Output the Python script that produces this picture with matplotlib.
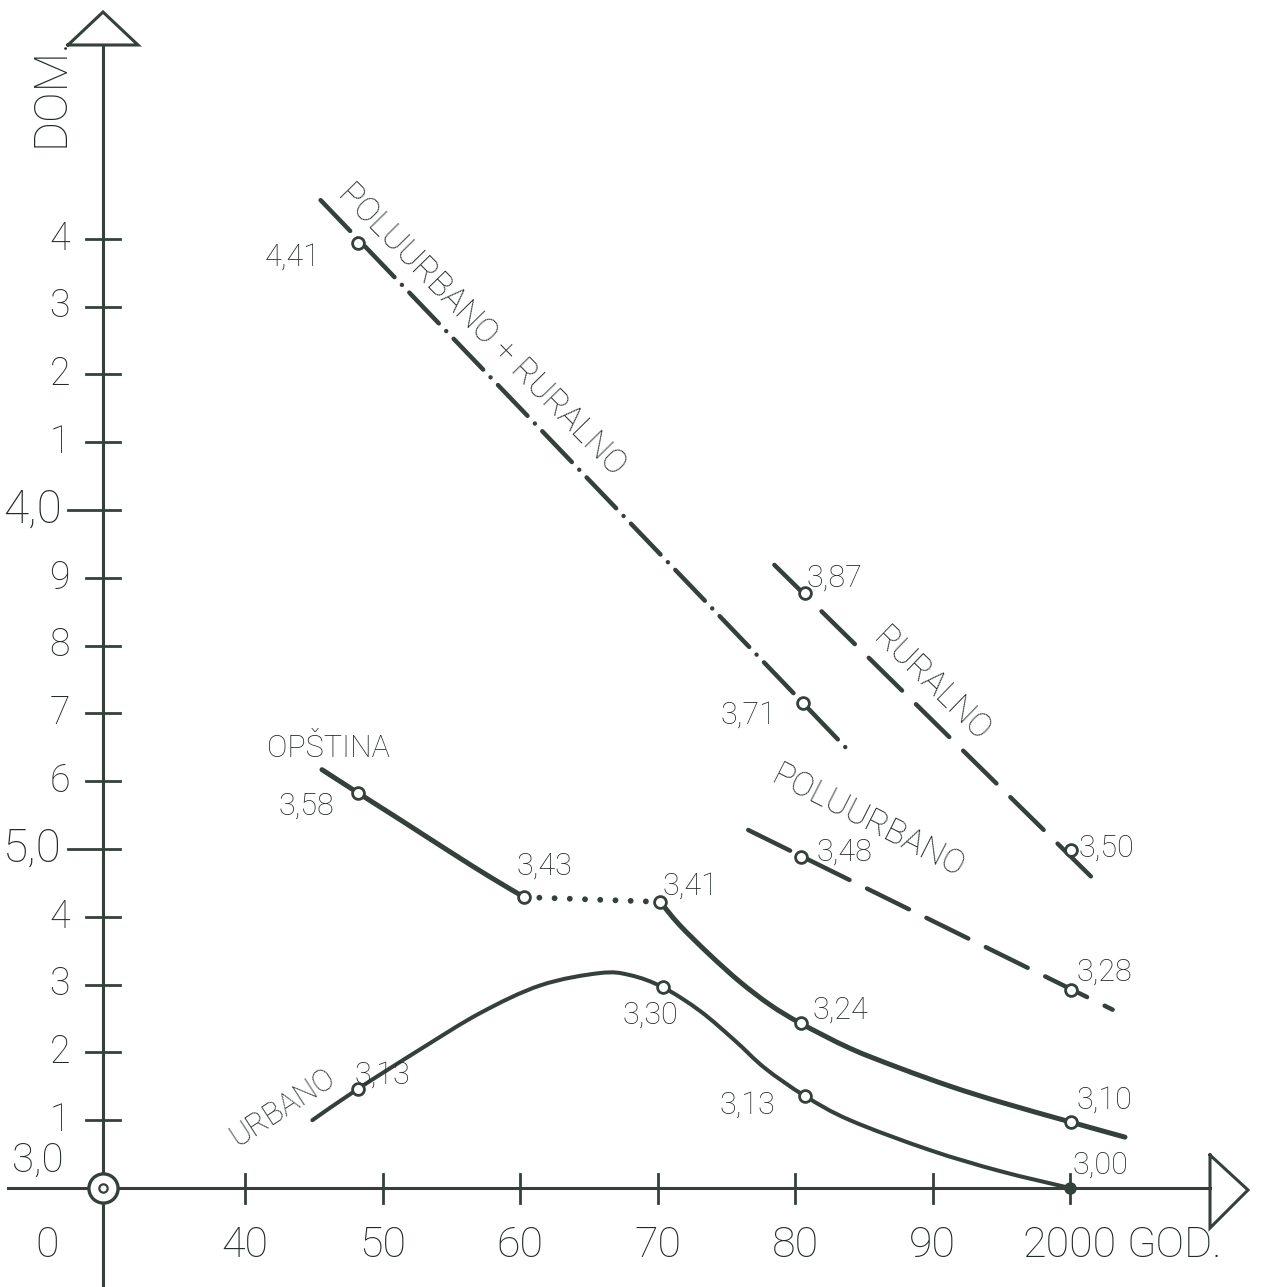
import matplotlib.pyplot as plt
from matplotlib.path import Path
from matplotlib.patches import PathPatch

WIDTH_PXL = 1262
HEIGHT_PXL = 1287
DPI = 100

INK = '#34413a'
TEXT_INK = '#222a26'
FONT = 'Roboto'

# --- data (years, households per dwelling "DOM.") ---
pr_years = [1945.5, 1984.0]          # POLUURBANO + RURALNO
pr_vals = [4.457, 3.643]
pr_pt_years = [1948.2, 1980.6]
pr_pt_vals = [4.394, 3.715]
pr_pt_labels = ['4,41', '3,71']

rur_years = [1978.5, 2001.8]         # RURALNO
rur_vals = [3.919, 3.454]
rur_pt_years = [1980.7, 2000.1]
rur_pt_vals = [3.878, 3.499]
rur_pt_labels = ['3,87', '3,50']

pu_years = [1976.6, 2003.1]          # POLUURBANO
pu_vals = [3.528, 3.263]
pu_pt_years = [1980.4, 2000.1]
pu_pt_vals = [3.488, 3.292]
pu_pt_labels = ['3,48', '3,28']

op_a_years = [1945.6, 1948.2, 1951.3, 1954.9, 1957.8, 1960.3]   # OPŠTINA
op_a_vals = [3.617, 3.583, 3.543, 3.496, 3.459, 3.429]
op_gap_years = [1960.3, 1970.2]
op_gap_vals = [3.429, 3.422]
op_b_years = [1970.2, 1971.6, 1973.8, 1976.0, 1978.2, 1980.4, 1984.0,
              1987.6, 1991.3, 1994.9, 2000.1, 2004.0]
op_b_vals = [3.422, 3.388, 3.344, 3.304, 3.270, 3.243, 3.206,
             3.177, 3.150, 3.127, 3.097, 3.075]
op_pt_years = [1948.2, 1960.3, 1970.2, 1980.4, 2000.1]
op_pt_vals = [3.583, 3.429, 3.422, 3.243, 3.097]
op_pt_labels = ['3,58', '3,43', '3,41', '3,24', '3,10']

urb_years = [1944.9, 1948.2, 1952.7, 1957.1, 1961.5, 1965.8, 1968.0, 1970.4,
             1973.1, 1975.6, 1977.8, 1980.7, 1984.0, 1989.8, 1994.9, 2000.0]
urb_vals = [3.100, 3.146, 3.204, 3.258, 3.299, 3.317, 3.314, 3.296,
            3.261, 3.218, 3.177, 3.136, 3.100, 3.056, 3.025, 3.000]
urb_pt_years = [1948.2, 1970.4, 1980.7]
urb_pt_vals = [3.146, 3.296, 3.136]
urb_pt_labels = ['3,13', '3,30', '3,13']
urb_end_year, urb_end_val, urb_end_label = 2000.0, 3.000, '3,00'

x_ticks = [1940, 1950, 1960, 1970, 1980, 1990, 2000]
x_labels = ['40', '50', '60', '70', '80', '90', '2000']
y_ticks = [3.1, 3.2, 3.3, 3.4, 3.5, 3.6, 3.7, 3.8, 3.9, 4.0, 4.1, 4.2, 4.3, 4.4]
y_labels = ['1', '2', '3', '4', '5,0', '6', '7', '8', '9', '4,0', '1', '2', '3', '4']
y_major = [3.5, 4.0]

# pixel <-> data scale of the drawing
X0_PX, X0_YEAR, PX_PER_YEAR = 245, 1940, 13.75
Y0_PX, Y0_VAL, PX_PER_UNIT = 1188, 3.0, 678


def dx(px):
    return X0_YEAR + (px - X0_PX) / PX_PER_YEAR


def dy(py):
    return Y0_VAL + (Y0_PX - py) / PX_PER_UNIT


def smooth_path(xs, ys):
    # cubic bezier segments through the points (catmull-rom tangents)
    pts = list(zip(xs, ys))
    n = len(pts)
    verts, codes = [pts[0]], [Path.MOVETO]
    for i in range(n - 1):
        p0 = pts[i - 1] if i > 0 else pts[i]
        p1, p2 = pts[i], pts[i + 1]
        p3 = pts[i + 2] if i + 2 < n else pts[i + 1]
        c1 = (p1[0] + (p2[0] - p0[0]) / 6, p1[1] + (p2[1] - p0[1]) / 6)
        c2 = (p2[0] - (p3[0] - p1[0]) / 6, p2[1] - (p3[1] - p1[1]) / 6)
        verts += [c1, c2, p2]
        codes += [Path.CURVE4] * 3
    return Path(verts, codes)


fig = plt.figure(figsize=(WIDTH_PXL / DPI, HEIGHT_PXL / DPI), dpi=DPI)
fig.patch.set_facecolor('white')
ax = fig.add_axes([0, 0, 1, 1])
ax.set_xlim(dx(0), dx(WIDTH_PXL))
ax.set_ylim(dy(HEIGHT_PXL), dy(0))
ax.axis('off')

txt = dict(family=FONT, color=TEXT_INK, fontweight='light')

# --- axes ---
AX_X = dx(103)
ax.plot([dx(8), dx(1210)], [Y0_VAL, Y0_VAL], color=INK, lw=2.2)
ax.plot([AX_X, AX_X], [dy(1287), dy(45)], color=INK, lw=2.2)
ax.plot([dx(1210), dx(1210), dx(1248), dx(1210)],
        [dy(1155), dy(1228), dy(1190), dy(1155)], color=INK, lw=2.2, solid_joinstyle='miter')
ax.plot([dx(68), dx(138), dx(103), dx(68)],
        [dy(45), dy(45), dy(12), dy(45)], color=INK, lw=2.2, solid_joinstyle='miter')
ax.plot([AX_X], [Y0_VAL], 'o', ms=21, mfc='white', mec=INK, mew=2.4, zorder=5)
ax.plot([AX_X], [Y0_VAL], 'o', ms=6, mfc='white', mec=INK, mew=1.6, zorder=6)

for x in x_ticks:
    ax.plot([x, x], [dy(1174), dy(1203)], color=INK, lw=2)
for y in y_ticks:
    left = dx(68) if y in y_major else dx(86)
    ax.plot([left, dx(120)], [y, y], color=INK, lw=2)

for x, lab in zip(x_ticks, x_labels):
    ax.text(x, dy(1245), lab, fontsize=31, ha='center', va='center', **txt)
ax.text(dx(1126), dy(1245), 'GOD.', fontsize=31, ha='left', va='center', **txt)
ax.text(dx(47), dy(1245), '0', fontsize=31, ha='center', va='center', **txt)
for y, lab in zip(y_ticks, y_labels):
    big = y in y_major
    ax.text(dx(62) if big else dx(70), y, lab, fontsize=33 if big else 27,
            ha='right', va='center', **txt)
ax.text(dx(64), dy(1160), '3,0', fontsize=29, ha='right', va='center', **txt)
ax.text(dx(50), dy(92), 'DOM.', fontsize=33, rotation=90, ha='center', va='center', **txt)

# --- series ---
ax.plot(pr_years, pr_vals, color=INK, lw=3.2, dash_capstyle='round',
        linestyle=(0, (9.6, 2.4, 0.01, 2.4)))
ax.plot(rur_years, rur_vals, color=INK, lw=3.2, dash_capstyle='round',
        linestyle=(0, (10.5, 4.4)))
ax.plot(pu_years, pu_vals, color=INK, lw=3.2, dash_capstyle='round',
        linestyle=(0, (10.5, 4.4)))
ax.add_patch(PathPatch(smooth_path(op_a_years, op_a_vals), fill=False,
                       edgecolor=INK, lw=3.6, capstyle='round'))
ax.plot(op_gap_years, op_gap_vals, color=INK, lw=4.2, dash_capstyle='round',
        linestyle=(0, (0.01, 2.6)))
ax.add_patch(PathPatch(smooth_path(op_b_years, op_b_vals), fill=False,
                       edgecolor=INK, lw=3.6, capstyle='round'))
ax.add_patch(PathPatch(smooth_path(urb_years, urb_vals), fill=False,
                       edgecolor=INK, lw=2.9, capstyle='round'))

mk = dict(marker='o', ls='none', ms=8.5, mfc='white', mec=INK, mew=2, zorder=7)
for xs, ys in [(pr_pt_years, pr_pt_vals), (rur_pt_years, rur_pt_vals),
               (pu_pt_years, pu_pt_vals), (op_pt_years, op_pt_vals),
               (urb_pt_years, urb_pt_vals)]:
    ax.plot(xs, ys, **mk)
ax.plot([urb_end_year], [urb_end_val], 'o', ms=8, color=INK, zorder=7)

# value labels (offsets in pixels)
offsets = {
    'pr': [(-65, -14), (-55, -12)],
    'rur': [(30, 15), (35, 2)],
    'pu': [(44, 5), (33, 18)],
    'op': [(-51, -13), (20, 31), (30, 16), (40, 13), (33, 22)],
    'urb': [(25, 14), (-13, -28), (-57, -9)],
}
groups = {
    'pr': (pr_pt_years, pr_pt_vals, pr_pt_labels),
    'rur': (rur_pt_years, rur_pt_vals, rur_pt_labels),
    'pu': (pu_pt_years, pu_pt_vals, pu_pt_labels),
    'op': (op_pt_years, op_pt_vals, op_pt_labels),
    'urb': (urb_pt_years, urb_pt_vals, urb_pt_labels),
}
for key, (xs, ys, labs) in groups.items():
    for x, y, lab, off in zip(xs, ys, labs, offsets[key]):
        ax.annotate(lab, (x, y), xytext=off, textcoords='offset pixels',
                    fontsize=22, ha='center', va='center', **txt)
ax.annotate(urb_end_label, (urb_end_year, urb_end_val), xytext=(30, 23),
            textcoords='offset pixels', fontsize=22, ha='center', va='center', **txt)

# series names
ax.text(dx(482), dy(330), 'POLUURBANO + RURALNO', fontsize=24, rotation=-45.5,
        rotation_mode='anchor', ha='center', va='center', **txt)
ax.text(dx(932), dy(685), 'RURALNO', fontsize=24, rotation=-44,
        rotation_mode='anchor', ha='center', va='center', **txt)
ax.text(dx(868), dy(822), 'POLUURBANO', fontsize=24, rotation=-27,
        rotation_mode='anchor', ha='center', va='center', **txt)
ax.text(dx(328), dy(748), 'OPŠTINA', fontsize=22, ha='center', va='center', **txt)
ax.text(dx(282), dy(1107), 'URBANO', fontsize=22, rotation=33,
        rotation_mode='anchor', ha='center', va='center', **txt)

fig.savefig('out.png', dpi=DPI, facecolor='white')
